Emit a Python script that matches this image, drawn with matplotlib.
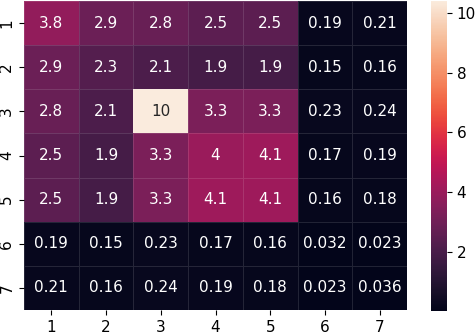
import numpy as np
import matplotlib
matplotlib.use("Agg")
import matplotlib.pyplot as plt
import seaborn as sns

labels = [1, 2, 3, 4, 5, 6, 7]
row1 = [3.8, 2.9, 2.8, 2.5, 2.5, 0.19, 0.21]
row2 = [2.9, 2.3, 2.1, 1.9, 1.9, 0.15, 0.16]
row3 = [2.8, 2.1, 10.4, 3.3, 3.3, 0.23, 0.24]
row4 = [2.5, 1.9, 3.3, 4, 4.1, 0.17, 0.19]
row5 = [2.5, 1.9, 3.3, 4.1, 4.1, 0.16, 0.18]
row6 = [0.19, 0.15, 0.23, 0.17, 0.16, 0.032, 0.023]
row7 = [0.21, 0.16, 0.24, 0.19, 0.18, 0.023, 0.036]

data = np.array([row1, row2, row3, row4, row5, row6, row7])

plt.rcParams['font.size'] = 11

W, H = 476, 334
fig = plt.figure(figsize=(W / 100, H / 100), dpi=100)
ax = fig.add_axes([24 / W, (H - 310) / H, (407 - 24) / W, (310 - 1) / H])
cax = fig.add_axes([431 / W, (H - 311) / H, (447 - 431) / W, (311 - 1) / H])

sns.heatmap(data, annot=True, annot_kws={'size': 11}, ax=ax, cbar_ax=cax,
            xticklabels=labels, yticklabels=labels,
            linewidths=0.4, linecolor=(1, 1, 1, 0.12))
ax.tick_params(labelsize=11)
cax.tick_params(labelsize=11)

fig.savefig("out.png", dpi=100)
